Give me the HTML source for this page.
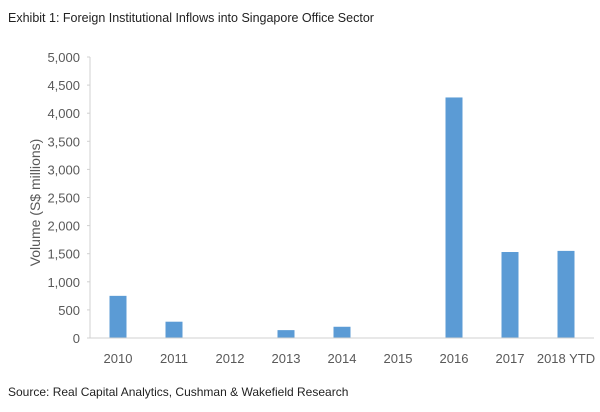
<!DOCTYPE html>
<html><head><meta charset="utf-8"><style>
body{margin:0;background:#fff;font-family:"Liberation Sans",sans-serif;}
</style></head><body>
<svg width="600" height="407" xmlns="http://www.w3.org/2000/svg">
<text x="8" y="22" font-size="12.5" fill="#222">Exhibit 1: Foreign Institutional Inflows into Singapore Office Sector</text>
<text x="8" y="458" font-size="12" fill="#222" transform="translate(0,-62)">Source: Real Capital Analytics, Cushman &amp; Wakefield Research</text>
<g id="plot"></g>
</svg>
<script>
const categories=["2010","2011","2012","2013","2014","2015","2016","2017","2018 YTD"];
const values=[750,290,0,140,200,0,4280,1530,1550];
const yTicks=[0,500,1000,1500,2000,2500,3000,3500,4000,4500,5000];
const yTickLabels=["0","500","1,000","1,500","2,000","2,500","3,000","3,500","4,000","4,500","5,000"];
const NS="http://www.w3.org/2000/svg";
const g=document.getElementById('plot');
const x0=90,x1=594,y0=338,yTop=57,yMax=5000;
const bw=(x1-x0)/categories.length;
const y=v=>y0-(v/yMax)*(y0-yTop);
function el(t,a){const e=document.createElementNS(NS,t);for(const k in a)e.setAttribute(k,a[k]);g.appendChild(e);return e;}
yTicks.forEach((v,i)=>{
 const t=el('text',{x:80,y:y(v)+5,'font-size':13,fill:'#595959','text-anchor':'end'});
 t.textContent=yTickLabels[i];
 
 
 const l=el('line',{x1:87,x2:x0,y1:y(v),y2:y(v),stroke:'#d0d0d0'});
 
 
});
const ya=el('line',{x1:x0,x2:x0,y1:yTop,y2:y0,stroke:'#d0d0d0'});


categories.forEach((c,i)=>{
 const cx=x0+bw*(i+0.5);
 if(values[i]>0){
  const r=el('rect',{x:cx-8.5,y:y(values[i]),width:17,height:y0-y(values[i]),fill:'#5b9bd5'});
  
  
 }
 const t=el('text',{x:cx,y:363,'font-size':13,fill:'#595959','text-anchor':'middle'});
 t.textContent=c;
 
 
});
const xa=el('line',{x1:x0,x2:x1,y1:y0,y2:y0,stroke:'#d0d0d0'});


const yt=el('text',{x:0,y:0,'font-size':14,fill:'#595959','text-anchor':'middle',transform:'translate(40,'+((yTop+y0)/2+5)+') rotate(-90)'});
yt.textContent='Volume (S$ millions)';


</script>
</body></html>
